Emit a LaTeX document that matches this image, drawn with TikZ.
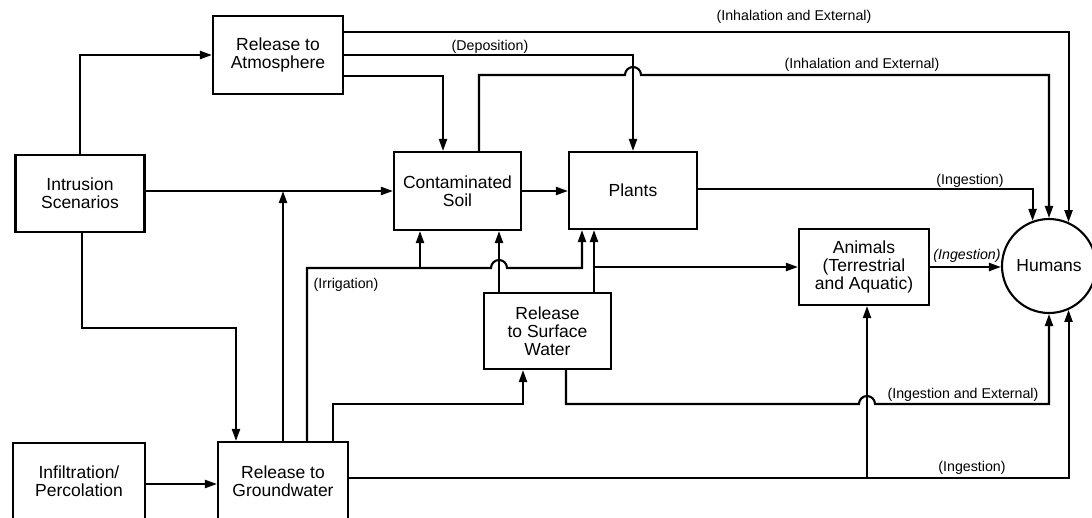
\documentclass[tikz,border=0pt]{standalone}
\usepackage{fontspec}
\setmainfont{Liberation Sans}
\usetikzlibrary{arrows.meta}
\begin{document}
\begin{tikzpicture}[x=1pt,y=1pt,
  line/.style={line width=2.1pt,line join=miter},
  arr/.style={line, -{Triangle[length=12pt,width=8pt]}},
  box/.style={draw,line width=2.1pt,align=center,inner sep=0pt,
    font=\fontsize{17.5}{18}\selectfont},
  lbl/.style={inner sep=0pt,font=\fontsize{14.2}{14.2}\selectfont}]
\useasboundingbox[fill=white] (0,0) rectangle (1092,-517);
% nodes
\node[box,minimum width=130pt,minimum height=78pt] (atm) at (278,-55) {Release to\\Atmosphere};
\node[box,minimum width=129pt,minimum height=77pt] (intr) at (80,-193.5) {Intrusion\\Scenarios};
\node[box,minimum width=127pt,minimum height=78pt] (soil) at (457.5,-191) {Contaminated\\Soil};
\node[box,minimum width=128pt,minimum height=77pt] (plants) at (633,-190.5) {Plants};
\node[box,minimum width=130pt,minimum height=76pt] (animals) at (864,-267) {Animals\\(Terrestrial\\and Aquatic)};
\node[box,circle,minimum size=94pt] (humans) at (1049,-266) {Humans};
\node[box,minimum width=127pt,minimum height=76pt] (surf) at (547.5,-331) {Release\\to Surface\\Water};
\node[box,minimum width=132pt,minimum height=76pt] (infil) at (79,-481) {Infiltration/\\Percolation};
\node[box,minimum width=130pt,minimum height=78pt] (gw) at (283,-481) {Release to\\Groundwater};
% bend points
\coordinate (g1) at (236,-328);
\coordinate (j1) at (307,-268);
\coordinate (j2) at (420,-268);
\coordinate (h1) at (499,-268);
\coordinate (j3) at (594,-267);
\coordinate (k0) at (333,-404);
\coordinate (k1) at (523,-404);
\coordinate (k2) at (566,-404);
\coordinate (h2) at (867,-404);
\coordinate (m1) at (867,-478);
\coordinate (h3) at (633,-75);
\coordinate (s1) at (479,-75);
\coordinate (a1) at (343,-32);
\coordinate (a3) at (343,-76);
\coordinate (s2) at (443,-76);
\coordinate (p1) at (145,-484);
\coordinate (q1) at (82,-232);
\coordinate (pl1) at (697,-189);
% connectors
\draw[arr] (intr.north) |- (atm.west);
\draw[arr] (intr.east |- soil.west) -- (soil.west);
\draw[arr] (q1) |- (g1) -- (g1 |- gw.north);
\draw[arr] (gw.north) -- (gw.north |- soil.west);
\draw[arr] (j1 |- gw.north) -- (j1) -- ([xshift=-8pt]h1) arc[start angle=180,end angle=0,radius=8pt] -| ([xshift=-51pt]plants.south);
\draw[arr] (j2) -- (j2 |- soil.south);
\draw[arr] (h1 |- surf.north) -- (h1 |- soil.south);
\draw[arr] (j3 |- surf.north) -- (j3 |- plants.south);
\draw[arr] (j3) -- (j3 -| animals.west);
\draw[arr] (k0 |- gw.north) -- (k0) -- (k1) -- (k1 |- surf.south);
\draw[arr] (k2 |- surf.south) -- (k2) -- ([xshift=-8pt]h2) arc[start angle=180,end angle=0,radius=8pt] -| (humans.270);
\draw[arr] (gw.east |- m1) -| (humans.294);
\draw[arr] (m1) -- (m1 |- animals.south);
\draw[arr] (a1) -| (humans.66);
\draw[arr] (atm.east) -| (plants.north);
\draw[arr] (a3) -| (s2 |- soil.north);
\draw[arr] (s1 |- soil.north) -- (s1) -- ([xshift=-8pt]h3) arc[start angle=180,end angle=0,radius=8pt] -| (humans.north);
\draw[arr] (soil.east) -- (soil.east -| plants.west);
\draw[arr] (pl1) -| (humans.110);
\draw[arr] (animals.east) -- (animals.east -| humans.west);
\draw[arr] (p1) -- (p1 -| gw.west);
% labels
\node[lbl] (l1) at (794,-17) {(Inhalation and External)};
\node[lbl] (l2) at (490,-47) {(Deposition)};
\node[lbl] (l3) at (862,-65) {(Inhalation and External)};
\node[lbl] (l4) at (970,-181) {(Ingestion)};
\node[lbl,font=\fontsize{14.2}{14.2}\selectfont\itshape] (l5) at (967,-256) {(Ingestion)};
\node[lbl] (l6) at (346,-285) {(Irrigation)};
\node[lbl] (l7) at (963,-395) {(Ingestion and External)};
\node[lbl] (l8) at (972,-468) {(Ingestion)};
\end{tikzpicture}
\end{document}
